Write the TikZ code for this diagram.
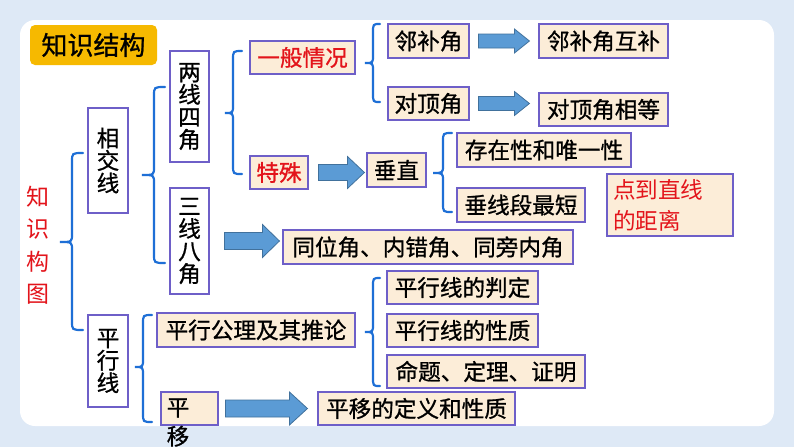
\documentclass[tikz,border=0pt]{standalone}
\usepackage{fontspec}
\newfontfamily\cjk{Noto Sans CJK SC}[FakeBold=0.9]
\newfontfamily\cjkl{Noto Sans CJK SC}
\usetikzlibrary{calc}
\definecolor{pagebg}{HTML}{DEE9F6}
\definecolor{boxbg}{HTML}{FCEDD8}
\definecolor{boxbd}{HTML}{6E5FC8}
\definecolor{bracec}{HTML}{1E6FD6}
\definecolor{arrfill}{HTML}{5B9BD5}
\definecolor{arrbd}{HTML}{41719C}
\definecolor{redtxt}{HTML}{E3141B}
\definecolor{titlebg}{HTML}{F6B900}
\newcommand\mybrace[6]{% tip x, spine x, end x, top y, mid y, bottom y
  \draw[bracec, line width=2.2pt, line cap=round]
    (#3,#4) .. controls (#2,#4) .. (#2,#4+9) -- (#2,#5-8)
    .. controls (#2,#5) .. (#1,#5) .. controls (#2,#5) .. (#2,#5+8)
    -- (#2,#6-9) .. controls (#2,#6) .. (#3,#6);}
\newcommand\barrow[5]{% from, to, shaft half, head half, head length
  \path let \p1=(#1), \p2=(#2) in
    [draw=arrbd, fill=arrfill, line width=0.8pt]
    (\x1,\y1+#3pt) -- (\x2-#5pt,\y1+#3pt) -- (\x2-#5pt,\y1+#4pt) -- (\x2,\y1)
    -- (\x2-#5pt,\y1-#4pt) -- (\x2-#5pt,\y1-#3pt) -- (\x1,\y1-#3pt) -- cycle;}
\tikzset{
  box/.style={draw=boxbd, fill=boxbg, line width=1.1pt, inner sep=0pt,
    font=\cjk\fontsize{22.6}{24}\selectfont, text=black},
  wbox/.style={box, fill=white},
  vtext/.style={align=center, font=\cjk\fontsize{22.6}{22.5}\selectfont},
  redt/.style={text=redtxt},
}
\begin{document}
\begin{tikzpicture}[x=1pt,y=-1pt]
\useasboundingbox (0,0) rectangle (794,447);
\fill[pagebg] (0,0) rectangle (794,447);
\fill[white, rounded corners=15pt] (20,20) rectangle (774,426);
% title
\node[fill=titlebg, rounded corners=5pt, minimum width=127pt, minimum height=40pt,
  inner sep=0pt, font=\cjk\fontsize{26}{28}\selectfont] (title) at (93.5,45) {知识结构};
% red vertical text
\node[align=center, text=redtxt, font=\cjkl\fontsize{23}{32.5}\selectfont] (root) at (38,245) {知\\识\\构\\图};
% level 1
\node[wbox, vtext, minimum width=40pt, minimum height=105pt] (xj) at (108,160.5) {相\\交\\线};
\node[wbox, vtext, minimum width=40pt, minimum height=92pt] (pxx) at (108,361) {平\\行\\线};
% level 2
\node[wbox, vtext, minimum width=39pt, minimum height=111pt] (lxsj) at (189.5,106.5) {两\\线\\四\\角};
\node[wbox, vtext, minimum width=39pt, minimum height=106pt] (sxbj) at (189.5,241) {三\\线\\八\\角};
\node[box, minimum width=198pt, minimum height=34pt] (pxgl) at (256,330) {平行公理及其推论};
\node[box, minimum width=57pt, minimum height=33pt] (py) at (189.5,408.5) {};
\node[vtext, font=\cjk\fontsize{22.6}{29}\selectfont] (pytext) at (178,422.5) {平\\移};
% level 3
\node[box, redt, minimum width=105pt, minimum height=33pt] (ybqk) at (302.5,57.5) {一般情况};
\node[box, redt, minimum width=58pt, minimum height=33pt] (ts) at (279,172.5) {特殊};
\node[box, minimum width=59pt, minimum height=34pt] (cz) at (396.5,170) {垂直};
\node[box, minimum width=81pt, minimum height=34pt] (lbj) at (428.5,41) {邻补角};
\node[box, minimum width=81pt, minimum height=33pt] (ddj) at (428.5,103.5) {对顶角};
\node[box, minimum width=129pt, minimum height=34pt] (lbjhb) at (603.5,41) {邻补角互补};
\node[box, minimum width=129pt, minimum height=33pt] (ddjxd) at (603.5,109.5) {对顶角相等};
\node[box, minimum width=174pt, minimum height=34pt] (czx) at (544,150) {存在性和唯一性};
\node[box, minimum width=128pt, minimum height=34pt] (cxd) at (521,205) {垂线段最短};
\node[box, redt, minimum width=126pt, minimum height=62pt, align=left,
  font=\cjkl\fontsize{22.6}{31}\selectfont, text width=114pt] (ddzx) at (670,205) {点到直线\\的距离};
\node[box, minimum width=290pt, minimum height=34pt] (twj) at (428,247) {同位角、内错角、同旁内角};
\node[box, minimum width=151pt, minimum height=33pt] (pd) at (462.5,287.5) {平行线的判定};
\node[box, minimum width=151pt, minimum height=33pt] (xz) at (462.5,330.5) {平行线的性质};
\node[box, minimum width=198pt, minimum height=33pt] (mt) at (486,371.5) {命题、定理、证明};
\node[box, minimum width=197pt, minimum height=33pt] (pydy) at (416.5,408.5) {平移的定义和性质};
% braces
\mybrace{60}{72}{83}{153}{242}{330}
\mybrace{142}{154}{165}{87}{175}{263}
\mybrace{225}{233}{242}{51}{113}{174}
\mybrace{365}{373}{380}{24}{63}{102}
\mybrace{433}{443}{452}{133}{173}{212}
\mybrace{135}{143}{152}{315}{367}{422}
\mybrace{365}{373}{380}{278}{332}{386}
% block arrows
\barrow{$(ts.east)+(10,0)$}{$(cz.west)+(-2,0)$}{8}{16}{17}
\barrow{$(lbj.east)+(9,0)$}{$(lbjhb.west)+(-9,0)$}{7}{12}{15}
\barrow{$(ddj.east)+(9,0)$}{$(ddjxd.west)+(-9,0)$}{7}{12}{15}
\barrow{$(sxbj.east)+(15,0)$}{$(twj.west)+(-3,0)$}{8.5}{16.5}{17}
\barrow{$(py.east)+(7,0)$}{$(pydy.west)+(-10,0)$}{8.5}{16.5}{18}
\end{tikzpicture}
\end{document}
